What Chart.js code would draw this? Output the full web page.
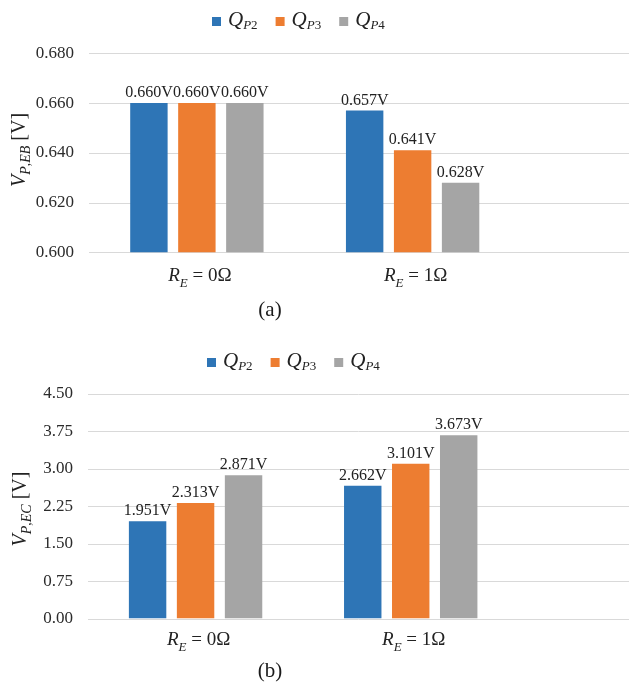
<!DOCTYPE html>
<html>
<head>
<meta charset="utf-8">
<script src="https://cdn.jsdelivr.net/npm/chart.js@4/dist/chart.umd.min.js"></script>
<style>
  html, body { margin: 0; padding: 0; background: #fff; width: 629px; height: 684px; overflow: hidden; }
  canvas { position: absolute; left: 0; }
</style>
</head>
<body>
<canvas id="chartA" width="629" height="340" style="top:0"></canvas>
<canvas id="chartB" width="629" height="344" style="top:340px"></canvas>
<script>
// Categories and series names ("X_Y rest" = italic X with subscript Y)
const categories = ['R_E = 0Ω', 'R_E = 1Ω'];
const seriesNames = ['Q_P2', 'Q_P3', 'Q_P4'];
const seriesColors = ['#2E75B6', '#ED7D31', '#A5A5A5'];

// (a) emitter-base voltage V_P,EB [V]
const vebP2 = [0.660, 0.657];
const vebP3 = [0.660, 0.641];
const vebP4 = [0.660, 0.628];
const vebTicks = [0.600, 0.620, 0.640, 0.660, 0.680];

// (b) emitter-collector voltage V_P,EC [V]
const vecP2 = [1.951, 2.662];
const vecP3 = [2.313, 3.101];
const vecP4 = [2.871, 3.673];
const vecTicks = [0.00, 0.75, 1.50, 2.25, 3.00, 3.75, 4.50];

const SERIF = '"Liberation Serif", "Times New Roman", serif';

// Split "X_Y rest" into italic base, subscript characters and plain tail
function richParts(str) {
  const m = str.match(/^([^_]+)_(\S+)(.*)$/);
  if (!m) return [{ t: str }];
  const parts = [{ t: m[1], it: true }];
  for (const ch of m[2]) parts.push({ t: ch, it: /[A-Za-z,]/.test(ch), sub: true });
  if (m[3]) parts.push({ t: m[3] });
  return parts;
}

function drawRich(ctx, str, x, y, size, subSize, subDy, align, color) {
  const parts = richParts(str);
  const fontOf = p => `${p.it ? 'italic ' : ''}${p.sub ? subSize : size}px ${SERIF}`;
  let w = 0;
  parts.forEach(p => { ctx.font = fontOf(p); p.w = ctx.measureText(p.t).width; w += p.w; });
  let cx = align === 'center' ? x - w / 2 : x;
  ctx.fillStyle = color;
  ctx.textAlign = 'left';
  ctx.textBaseline = 'alphabetic';
  parts.forEach(p => {
    ctx.font = fontOf(p);
    ctx.fillText(p.t, cx, y + (p.sub ? subDy : 0));
    cx += p.w;
  });
  return w;
}

function decorPlugin(L) {
  return {
    id: 'decor',
    beforeDatasetsDraw(chart) {
      const { ctx, chartArea, scales } = chart;
      ctx.save();
      ctx.strokeStyle = '#D9D9D9';
      ctx.lineWidth = 1;
      scales.y.ticks.forEach(t => {
        const y = Math.round(scales.y.getPixelForValue(t.value)) + 0.5;
        ctx.beginPath();
        ctx.moveTo(chartArea.left, y);
        ctx.lineTo(chart.width, y);
        ctx.stroke();
      });
      ctx.restore();
    },
    afterDatasetsDraw(chart) {
      const { ctx } = chart;
      ctx.save();
      ctx.font = `16px ${SERIF}`;
      ctx.fillStyle = '#222222';
      ctx.textAlign = 'center';
      ctx.textBaseline = 'alphabetic';
      chart.data.datasets.forEach((ds, i) => {
        chart.getDatasetMeta(i).data.forEach((bar, j) => {
          ctx.fillText(ds.data[j].toFixed(3) + 'V', bar.x, bar.y - 6);
        });
      });
      ctx.restore();
    },
    afterDraw(chart) {
      const { ctx, scales } = chart;
      ctx.save();
      // legend
      let x = L.legendX;
      chart.data.datasets.forEach((ds, i) => {
        ctx.fillStyle = ds.backgroundColor;
        ctx.fillRect(x, L.legendBase - 9, 9, 9);
        const w = drawRich(ctx, ds.label, x + 16, L.legendBase, 21, 13, 3, 'left', '#222222');
        x += 16 + w + 18;
      });
      // category labels
      categories.forEach((c, i) => {
        const cx = scales.x.getPixelForTick(i) + 3;
        drawRich(ctx, c, cx, L.catBase, 19, 13, 6, 'center', '#222222');
      });
      // y axis title
      ctx.save();
      ctx.translate(L.titleX, L.titleY);
      ctx.rotate(-Math.PI / 2);
      drawRich(ctx, L.title, 0, 0, 20, 14, 5, 'center', '#222222');
      ctx.restore();
      // panel label
      ctx.font = `21px ${SERIF}`;
      ctx.fillStyle = '#1a1a1a';
      ctx.textAlign = 'center';
      ctx.fillText(L.panel, L.panelX, L.panelBase);
      ctx.restore();
    }
  };
}

function buildChart(id, series, ticks, decimals, L) {
  const canvas = document.getElementById(id);
  const W = canvas.width, H = canvas.height;
  const datasets = series.map((vals, i) => ({
    label: seriesNames[i],
    data: vals,
    backgroundColor: seriesColors[i],
    borderWidth: 0,
    barPercentage: 0.78,
    categoryPercentage: L.catPct
  }));
  return new Chart(canvas, {
    type: 'bar',
    data: { labels: categories, datasets },
    options: {
      responsive: false,
      animation: false,
      devicePixelRatio: 1,
      layout: { padding: { left: 0, top: L.top, right: W - L.right, bottom: 0 } },
      plugins: { legend: { display: false }, tooltip: { enabled: false } },
      scales: {
        x: {
          grid: { display: false, drawTicks: false },
          border: { display: false },
          ticks: { display: false },
          afterFit: s => { s.height = H - L.bottom; }
        },
        y: {
          min: ticks[0],
          max: ticks[ticks.length - 1],
          grid: { display: false, drawTicks: false },
          border: { display: false },
          afterBuildTicks: s => { s.ticks = ticks.map(v => ({ value: v })); },
          ticks: {
            padding: 15,
            color: '#2b2b2b',
            font: { family: SERIF, size: 17 },
            callback: v => Number(v).toFixed(decimals)
          },
          afterFit: s => { s.width = L.left; }
        }
      }
    },
    plugins: [decorPlugin(L)]
  });
}

buildChart('chartA', [vebP2, vebP3, vebP4], vebTicks, 3, {
  left: 89, right: 520.5, top: 53.3, bottom: 252.3, catPct: 0.667,
  legendX: 212, legendBase: 26, catBase: 281,
  title: 'V_P,EB [V]', titleX: 25, titleY: 150,
  panel: '(a)', panelX: 270, panelBase: 316
});

buildChart('chartB', [vecP2, vecP3, vecP4], vecTicks, 2, {
  left: 88, right: 518.3, top: 54, bottom: 278.5, catPct: 0.669,
  legendX: 207, legendBase: 27, catBase: 305,
  title: 'V_P,EC [V]', titleX: 26, titleY: 169,
  panel: '(b)', panelX: 270, panelBase: 337
});
</script>
</body>
</html>
